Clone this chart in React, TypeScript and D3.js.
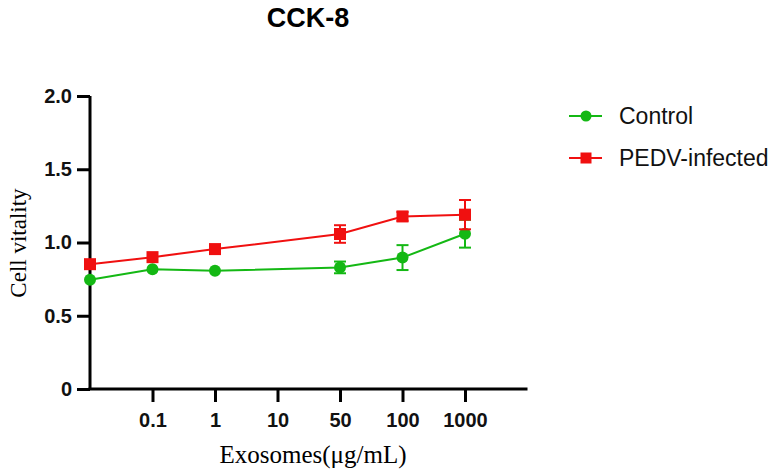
import React, { useRef, useEffect } from "react";
import * as d3 from "d3";

const xLabels = ["0.1", "1", "10", "50", "100", "1000"];
// x index: 0 = untreated (at axis), 1..6 = labelled doses
const controlIdx = [0, 1, 2, 4, 5, 6];
const controlMean = [0.745, 0.817, 0.807, 0.83, 0.897, 1.06];
const controlErr = [0.0, 0.0, 0.0, 0.04, 0.085, 0.095];
const pedvIdx = [0, 1, 2, 4, 5, 6];
const pedvMean = [0.852, 0.9, 0.955, 1.058, 1.178, 1.19];
const pedvErr = [0.0, 0.0, 0.0, 0.06, 0.03, 0.1];
const yTicks = [0, 0.5, 1.0, 1.5, 2.0];

const GREEN = "#14b814";
const RED = "#f01010";
const SANS = "Arial, 'Liberation Sans', sans-serif";
const SERIF = "'Liberation Serif', 'Times New Roman', serif";

const App: React.FC = () => {
  const ref = useRef<SVGSVGElement | null>(null);

  useEffect(() => {
    const svg = d3.select(ref.current);
    svg.selectAll("*").remove();

    const x = d3.scaleLinear().domain([0, 7]).range([90, 527.5]);
    const y = d3.scaleLinear().domain([0, 2]).range([389, 96]);

    // Title
    svg
      .append("text")
      .attr("x", 308)
      .attr("y", 27)
      .attr("text-anchor", "middle")
      .style("font-family", SANS)
      .style("font-weight", "bold")
      .style("font-size", "27px")
      .text("CCK-8");

    // Y axis
    const yAxis = svg
      .append("g")
      .attr("transform", `translate(${x(0)},0)`)
      .call(
        d3
          .axisLeft(y)
          .tickValues(yTicks)
          .tickSize(13)
          .tickPadding(5)
          .tickFormat((d) => (+d === 0 ? "0" : d3.format(".1f")(+d)))
      );
    yAxis.select(".domain").attr("stroke-width", 3).attr("d", `M0,${y(0)}V${y(2)}`);
    yAxis.selectAll(".tick line").attr("stroke-width", 3);
    yAxis
      .selectAll("text")
      .style("font-family", SANS)
      .style("font-weight", "bold")
      .style("font-size", "20px")
      .attr("fill", "#111");

    // X axis
    const xAxis = svg
      .append("g")
      .attr("transform", `translate(0,${y(0)})`)
      .call(
        d3
          .axisBottom(x)
          .tickValues([1, 2, 3, 4, 5, 6])
          .tickSize(13)
          .tickPadding(11)
          .tickFormat((d) => xLabels[+d - 1])
      );
    xAxis.select(".domain").attr("stroke-width", 3).attr("d", `M${x(0) - 1.5},0H${x(7)}`);
    xAxis.selectAll(".tick line").attr("stroke-width", 3);
    xAxis
      .selectAll("text")
      .style("font-family", SANS)
      .style("font-weight", "bold")
      .style("font-size", "20px")
      .attr("fill", "#111");

    // Axis labels
    svg
      .append("text")
      .attr("x", 313)
      .attr("y", 463)
      .attr("text-anchor", "middle")
      .style("font-family", SERIF)
      .style("font-size", "25px")
      .text("Exosomes(μg/mL)");
    svg
      .append("text")
      .attr("transform", `translate(26,243) rotate(-90)`)
      .attr("text-anchor", "middle")
      .style("font-family", SERIF)
      .style("font-size", "23px")
      .text("Cell vitality");

    const series = [
      { idx: controlIdx, mean: controlMean, err: controlErr, color: GREEN, shape: "circle" },
      { idx: pedvIdx, mean: pedvMean, err: pedvErr, color: RED, shape: "square" },
    ];

    const line = d3
      .line<[number, number]>()
      .x((d) => x(d[0]))
      .y((d) => y(d[1]));

    series.forEach((s) => {
      const pts: [number, number][] = s.idx.map((i, k) => [i, s.mean[k]]);
      const g = svg.append("g");
      // error bars
      s.idx.forEach((i, k) => {
        const e = s.err[k];
        if (e <= 0) return;
        const cx = x(i);
        g.append("line")
          .attr("x1", cx).attr("x2", cx)
          .attr("y1", y(s.mean[k] - e)).attr("y2", y(s.mean[k] + e))
          .attr("stroke", s.color).attr("stroke-width", 2);
        [s.mean[k] - e, s.mean[k] + e].forEach((v) => {
          g.append("line")
            .attr("x1", cx - 6).attr("x2", cx + 6)
            .attr("y1", y(v)).attr("y2", y(v))
            .attr("stroke", s.color).attr("stroke-width", 2);
        });
      });
      g.append("path")
        .datum(pts)
        .attr("fill", "none")
        .attr("stroke", s.color)
        .attr("stroke-width", 2)
        .attr("d", line);
      pts.forEach((p) => {
        if (s.shape === "circle") {
          g.append("circle")
            .attr("cx", x(p[0])).attr("cy", y(p[1])).attr("r", 6)
            .attr("fill", s.color);
        } else {
          g.append("rect")
            .attr("x", x(p[0]) - 6).attr("y", y(p[1]) - 6)
            .attr("width", 12).attr("height", 12)
            .attr("fill", s.color);
        }
      });
    });

    // Legend
    const legend = [
      { label: "Control", color: GREEN, shape: "circle", y: 116 },
      { label: "PEDV-infected", color: RED, shape: "square", y: 158 },
    ];
    legend.forEach((d) => {
      const g = svg.append("g");
      g.append("line")
        .attr("x1", 569).attr("x2", 602)
        .attr("y1", d.y).attr("y2", d.y)
        .attr("stroke", d.color).attr("stroke-width", 2);
      if (d.shape === "circle") {
        g.append("circle").attr("cx", 586).attr("cy", d.y).attr("r", 5.5).attr("fill", d.color);
      } else {
        g.append("rect")
          .attr("x", 580.5).attr("y", d.y - 5.5)
          .attr("width", 11).attr("height", 11)
          .attr("fill", d.color);
      }
      g.append("text")
        .attr("x", 619)
        .attr("y", d.y + 8)
        .style("font-family", SANS)
        .style("font-size", "23px")
        .attr("fill", "#111")
        .text(d.label);
    });
  }, []);

  return (
    <svg
      ref={ref}
      width={780}
      height={476}
      style={{ position: "absolute", left: 0, top: 0, background: "#fff" }}
    />
  );
};

export default App;
